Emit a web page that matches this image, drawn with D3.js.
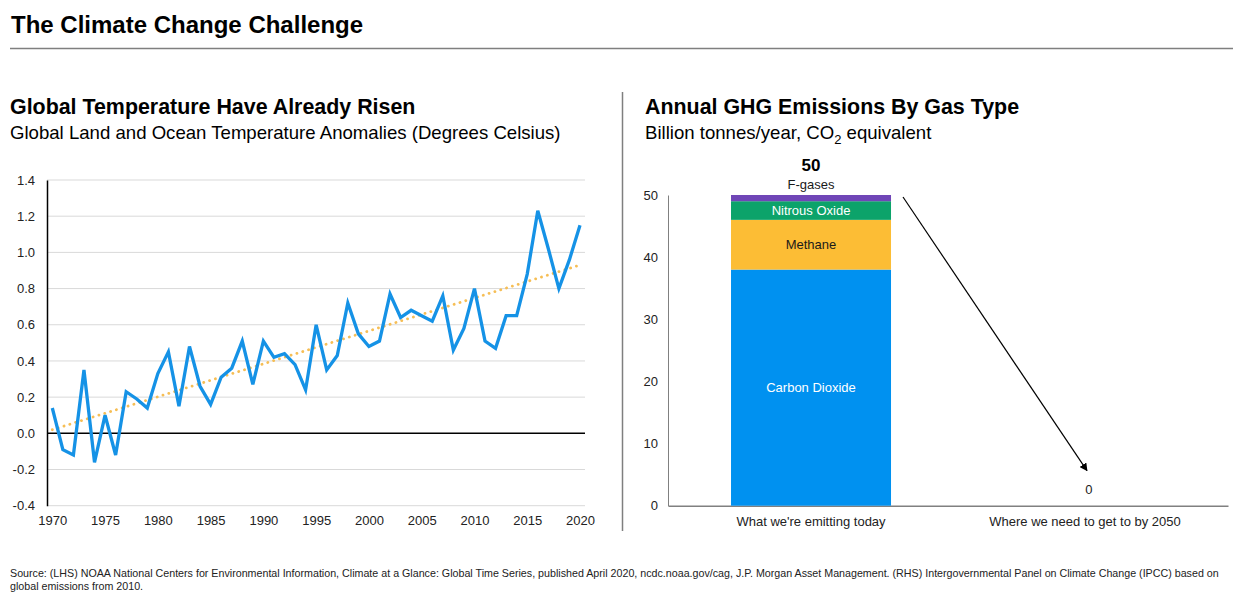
<!DOCTYPE html>
<html>
<head>
<meta charset="utf-8">
<script src="https://cdn.jsdelivr.net/npm/d3@7"></script>
<style>
  body { margin: 0; background: #fff; }
  svg { font-family: "Liberation Sans", Arial, sans-serif; }
</style>
</head>
<body>
<div id="chart"></div>
<script>
'use strict';

// Left chart data: temperature anomalies (deg C)
const years = d3.range(1970, 2021);
const anomalies = [
  0.14, -0.09, -0.12, 0.35, -0.16, 0.10, -0.12, 0.23, 0.19, 0.14,
  0.33, 0.45, 0.15, 0.48, 0.26, 0.16, 0.31, 0.36, 0.51, 0.27,
  0.51, 0.42, 0.44, 0.38, 0.24, 0.60, 0.35, 0.43, 0.72, 0.55,
  0.48, 0.51, 0.77, 0.64, 0.68, 0.65, 0.62, 0.76, 0.46, 0.58,
  0.80, 0.51, 0.47, 0.65, 0.65, 0.88, 1.23, 1.02, 0.80, 0.96,
  1.15
];
const trendYears = [1970, 2020];
const trendValues = [0.02, 0.93];
const tempTicks = [-0.4, -0.2, 0.0, 0.2, 0.4, 0.6, 0.8, 1.0, 1.2, 1.4];
const yearTicks = [1970, 1975, 1980, 1985, 1990, 1995, 2000, 2005, 2010, 2015, 2020];

// Right chart data: GHG emissions by gas (Gt CO2e)
const emissionCategories = ["What we're emitting today", 'Where we need to get to by 2050'];
const gases = ['Carbon Dioxide', 'Methane', 'Nitrous Oxide', 'F-gases'];
const emissionsToday = [38, 8, 3, 1];
const emissions2050 = [0, 0, 0, 0];
const emissionTicks = [0, 10, 20, 30, 40, 50];

const gasColors = ['#0091f0', '#fcbd35', '#0ca36a', '#7046b7'];
const gasTextColors = ['#ffffff', '#1a1a1a', '#ffffff', '#1a1a1a'];

const width = 1246, height = 597;
const FONT = '"Liberation Sans", Arial, sans-serif';

const svg = d3.select('#chart')
  .append('svg')
  .attr('width', width)
  .attr('height', height);

// Header
svg.append('text')
  .attr('x', 11).attr('y', 33)
  .attr('font-size', 24).attr('font-weight', 'bold')
  .text('The Climate Change Challenge');

svg.append('line')
  .attr('x1', 10).attr('x2', 1233)
  .attr('y1', 48.5).attr('y2', 48.5)
  .attr('stroke', '#7f7f7f').attr('stroke-width', 1.5);

// Panel divider
svg.append('line')
  .attr('x1', 622.5).attr('x2', 622.5)
  .attr('y1', 92).attr('y2', 531)
  .attr('stroke', '#7f7f7f').attr('stroke-width', 1.5);

// Panel titles
svg.append('text')
  .attr('x', 10).attr('y', 114)
  .attr('font-size', 21.4).attr('font-weight', 'bold')
  .text('Global Temperature Have Already Risen');

svg.append('text')
  .attr('x', 10).attr('y', 139)
  .attr('font-size', 18.6)
  .text('Global Land and Ocean Temperature Anomalies (Degrees Celsius)');

svg.append('text')
  .attr('x', 645).attr('y', 114)
  .attr('font-size', 21.4).attr('font-weight', 'bold')
  .text('Annual GHG Emissions By Gas Type');

const sub = svg.append('text')
  .attr('x', 645).attr('y', 139)
  .attr('font-size', 18.6);
sub.append('tspan').text('Billion tonnes/year, CO');
sub.append('tspan').attr('font-size', 13).attr('dy', 5).text('2');
sub.append('tspan').attr('dy', -5).text(' equivalent');

// Footer
const footer = svg.append('text')
  .attr('font-size', 10.7).attr('fill', '#222');
footer.append('tspan').attr('x', 10).attr('y', 577)
  .text('Source: (LHS) NOAA National Centers for Environmental Information, Climate at a Glance: Global Time Series, published April 2020, ncdc.noaa.gov/cag, J.P. Morgan Asset Management. (RHS) Intergovernmental Panel on Climate Change (IPCC) based on');
footer.append('tspan').attr('x', 10).attr('y', 590)
  .text('global emissions from 2010.');

// ---------- Left line chart ----------
const lx = d3.scaleLinear().domain([1970, 2020]).range([52.3, 580]);
const ly = d3.scaleLinear().domain([-0.4, 1.4]).range([505.7, 180]);

const left = svg.append('g');

// gridlines
left.append('g')
  .selectAll('line')
  .data(tempTicks.filter(d => d !== 0))
  .join('line')
  .attr('x1', 47).attr('x2', 585)
  .attr('y1', d => ly(d)).attr('y2', d => ly(d))
  .attr('stroke', '#d9d9d9').attr('stroke-width', 1);

// y axis labels
const lyAxis = left.append('g')
  .attr('transform', 'translate(47,0)')
  .call(d3.axisLeft(ly).tickValues(tempTicks).tickSize(0).tickPadding(12));
lyAxis.select('.domain').attr('stroke', '#000').attr('stroke-width', 1.5);
lyAxis.selectAll('text').attr('font-size', 13).attr('fill', '#222')
  .attr('font-family', FONT)
  .text(d => d3.format('.1f')(d).replace('−', '-'));

// zero line
left.append('line')
  .attr('x1', 47).attr('x2', 585)
  .attr('y1', ly(0)).attr('y2', ly(0))
  .attr('stroke', '#000').attr('stroke-width', 1.5);

// x axis labels
const lxAxis = left.append('g')
  .attr('transform', `translate(0,${ly(-0.4)})`)
  .call(d3.axisBottom(lx).tickValues(yearTicks).tickFormat(d3.format('d')).tickSize(0).tickPadding(10));
lxAxis.select('.domain').remove();
lxAxis.selectAll('text').attr('font-size', 13).attr('fill', '#222')
  .attr('font-family', FONT);

// trend line
left.append('path')
  .datum(trendYears.map((y, i) => [y, trendValues[i]]))
  .attr('d', d3.line().x(d => lx(d[0])).y(d => ly(d[1])))
  .attr('fill', 'none')
  .attr('stroke', '#f6be55')
  .attr('stroke-width', 2.8)
  .attr('stroke-linecap', 'round')
  .attr('stroke-dasharray', '0.1,6');

// anomaly line
left.append('path')
  .datum(years.map((y, i) => [y, anomalies[i]]))
  .attr('d', d3.line().x(d => lx(d[0])).y(d => ly(d[1])))
  .attr('fill', 'none')
  .attr('stroke', '#1592e6')
  .attr('stroke-width', 3.3)
  .attr('stroke-linejoin', 'miter');

// ---------- Right stacked bar chart ----------
const rx = d3.scaleBand().domain(emissionCategories).range([668, 1228]).paddingInner(0.416).paddingOuter(0.23);
const ry = d3.scaleLinear().domain([0, 50]).range([505.7, 195]);

const right = svg.append('g');

const ryAxis = right.append('g')
  .attr('transform', 'translate(668,0)')
  .call(d3.axisLeft(ry).tickValues(emissionTicks).tickSize(0).tickPadding(10));
ryAxis.select('.domain').attr('stroke', '#808080').attr('stroke-width', 1);
ryAxis.selectAll('text').attr('font-size', 13).attr('fill', '#222')
  .attr('font-family', FONT);

const rxAxis = right.append('g')
  .attr('transform', `translate(0,${ry(0)})`)
  .call(d3.axisBottom(rx).tickSize(0).tickPadding(11));
rxAxis.select('.domain').attr('stroke', '#808080').attr('stroke-width', 1.5);
rxAxis.selectAll('text').attr('font-size', 13).attr('fill', '#222')
  .attr('font-family', FONT);

const rows = [
  { cat: emissionCategories[0], values: emissionsToday },
  { cat: emissionCategories[1], values: emissions2050 }
].map(r => {
  const o = { cat: r.cat };
  gases.forEach((g, i) => { o[g] = r.values[i]; });
  return o;
});

const stack = d3.stack().keys(gases)(rows);

const layers = right.append('g')
  .selectAll('g')
  .data(stack)
  .join('g')
  .attr('fill', (d, i) => gasColors[i]);

layers.selectAll('rect')
  .data(d => d)
  .join('rect')
  .attr('x', d => rx(d.data.cat))
  .attr('width', rx.bandwidth())
  .attr('y', d => ry(d[1]))
  .attr('height', d => ry(d[0]) - ry(d[1]));

// segment labels (F-gases goes above the bar)
const todayStack = stack.map((s, i) => ({ key: s.key, i, y0: s[0][0], y1: s[0][1] }));
const cx0 = rx(emissionCategories[0]) + rx.bandwidth() / 2;

right.append('g')
  .selectAll('text')
  .data(todayStack.filter(d => d.key !== 'F-gases'))
  .join('text')
  .attr('x', cx0)
  .attr('y', d => (ry(d.y0) + ry(d.y1)) / 2 + 4.5)
  .attr('text-anchor', 'middle')
  .attr('font-size', 13)
  .attr('fill', d => gasTextColors[d.i])
  .text(d => d.key);

const fg = todayStack.find(d => d.key === 'F-gases');
right.append('text')
  .attr('x', cx0).attr('y', ry(fg.y1) - 6)
  .attr('text-anchor', 'middle')
  .attr('font-size', 13).attr('fill', '#1a1a1a')
  .text('F-gases');

const totals = [d3.sum(emissionsToday), d3.sum(emissions2050)];

right.append('text')
  .attr('x', cx0).attr('y', ry(totals[0]) - 24)
  .attr('text-anchor', 'middle')
  .attr('font-size', 17).attr('font-weight', 'bold')
  .text(totals[0]);

const cx1 = rx(emissionCategories[1]) + rx.bandwidth() / 2;
right.append('text')
  .attr('x', cx1 + 4).attr('y', ry(totals[1]) - 12)
  .attr('text-anchor', 'middle')
  .attr('font-size', 13).attr('fill', '#222')
  .text(totals[1]);

// arrow from today's total down to 2050
svg.append('defs').append('marker')
  .attr('id', 'arrowhead')
  .attr('viewBox', '0 0 10 10')
  .attr('refX', 9).attr('refY', 5)
  .attr('markerWidth', 8).attr('markerHeight', 8)
  .attr('markerUnits', 'userSpaceOnUse')
  .attr('orient', 'auto')
  .append('path')
  .attr('d', 'M0,0 L10,5 L0,10 Z')
  .attr('fill', '#000');

right.append('line')
  .attr('x1', rx(emissionCategories[0]) + rx.bandwidth() + 12)
  .attr('y1', ry(totals[0]) + 2)
  .attr('x2', cx1 + 2)
  .attr('y2', ry(totals[1]) - 35)
  .attr('stroke', '#000')
  .attr('stroke-width', 1.2)
  .attr('marker-end', 'url(#arrowhead)');
</script>
</body>
</html>
